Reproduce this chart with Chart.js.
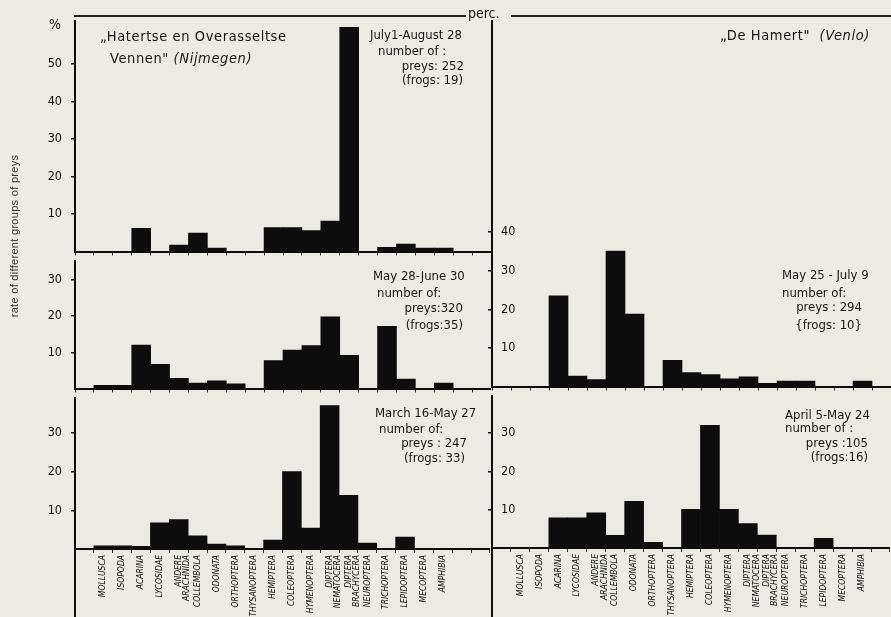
<!DOCTYPE html>
<html>
<head>
<meta charset="utf-8">
<script src="https://cdn.jsdelivr.net/npm/chart.js@4.4.1/dist/chart.umd.min.js"></script>
<style>
  body { margin: 0; background: #ebebe3; }
  #wrap { position: relative; width: 891px; height: 617px; overflow: hidden;
          font-family: 'Liberation Sans Narrow', 'DejaVu Sans Condensed', sans-serif; color: #161616; }
  canvas { position: absolute; }
  .t { position: absolute; white-space: nowrap; font-size: 13px; line-height: 14px; letter-spacing: 0; }
  .title { position: absolute; white-space: nowrap; font-size: 14.5px; line-height: 16px; letter-spacing: 0.6px; }
  .hline { position: absolute; height: 1.5px; background: #222; }
  .vline { position: absolute; width: 2px; background: #111; }
</style>
</head>
<body>
<div id="wrap">
  <canvas id="nijTop" width="491" height="264" style="left:0;top:4px"></canvas>
  <canvas id="nijMid" width="491" height="161" style="left:0;top:244px"></canvas>
  <canvas id="nijBot" width="491" height="236" style="left:0;top:381px"></canvas>
  <canvas id="hamMid" width="421" height="399" style="left:470px;top:4px"></canvas>
  <canvas id="hamBot" width="421" height="238" style="left:470px;top:379px"></canvas>

  <div class="hline" style="left:74px;top:15px;width:392px"></div>
  <div class="t" style="left:468px;top:6px;font-size:14px">perc.</div>
  <div class="hline" style="left:511px;top:15px;width:380px"></div>
  <div class="vline" style="left:74px;top:548px;height:69px"></div>
  <div class="vline" style="left:491px;top:547px;height:70px"></div>

  <div class="t" style="left:49px;top:17px;font-size:14px">%</div>
  <div style="position:absolute;left:-96px;top:230px;width:220px;text-align:center;transform:rotate(-90deg);
              font-family:'Liberation Sans',sans-serif;font-size:11px;letter-spacing:0.3px;color:#333">rate of different groups of preys</div>

  <div class="title" style="left:100px;top:28px">„Hatertse en Overasseltse</div>
  <div class="title" style="left:110px;top:50px">Vennen" <i>(Nijmegen)</i></div>
  <div class="title" style="left:720px;top:27px">„De Hamert" &nbsp;<i>(Venlo)</i></div>

  <div class="t" style="left:370px;top:28px">July1-August 28</div>
  <div class="t" style="left:378px;top:44px">number of :</div>
  <div class="t" style="right:427px;top:59px">preys: 252</div>
  <div class="t" style="right:428px;top:73px">(frogs: 19)</div>

  <div class="t" style="left:373px;top:269px">May 28-June 30</div>
  <div class="t" style="left:377px;top:286px">number of:</div>
  <div class="t" style="right:428px;top:301px">preys:320</div>
  <div class="t" style="right:428px;top:318px">(frogs:35)</div>

  <div class="t" style="left:375px;top:406px">March 16-May 27</div>
  <div class="t" style="left:379px;top:422px">number of:</div>
  <div class="t" style="right:424px;top:436px">preys : 247</div>
  <div class="t" style="right:426px;top:451px">(frogs: 33)</div>

  <div class="t" style="left:782px;top:268px">May 25 - July 9</div>
  <div class="t" style="left:782px;top:286px">number of:</div>
  <div class="t" style="right:29px;top:300px">preys : 294</div>
  <div class="t" style="right:29px;top:318px">{frogs: 10}</div>

  <div class="t" style="left:785px;top:408px">April 5-May 24</div>
  <div class="t" style="left:785px;top:421px">number of :</div>
  <div class="t" style="right:23px;top:436px">preys :105</div>
  <div class="t" style="right:23px;top:450px">(frogs:16)</div>
</div>

<script>
// prey groups, same order in all panels
const categories = ['MOLLUSCA', 'ISOPODA', 'ACARINA', 'LYCOSIDAE', ['ANDERE', 'ARACHNIDA'],
    'COLLEMBOLA', 'ODONATA', 'ORTHOPTERA', 'THYSANOPTERA', 'HEMIPTERA', 'COLEOPTERA',
    'HYMENOPTERA', ['DIPTERA', 'NEMATOCERA'], ['DIPTERA', 'BRACHYCERA'], 'NEUROPTERA',
    'TRICHOPTERA', 'LEPIDOPTERA', 'MECOPTERA', 'AMPHIBIA'];

// Hatertse en Overasseltse Vennen (Nijmegen), % of preys
const nijJulAug = [0, 0, 6.2, 0, 1.7, 4.9, 0.9, 0, 0, 6.4, 6.4, 5.6, 8.1, 59.7, 0, 1.1, 2.0, 0.9, 0.9];
const nijMayJun = [0.9, 0.9, 12.0, 6.7, 2.8, 1.5, 2.1, 1.3, 0, 7.7, 10.6, 11.9, 19.8, 9.2, 0, 17.2, 2.6, 0, 1.5];
const nijMarMay = [0.8, 0.8, 0.7, 6.8, 7.6, 3.4, 1.3, 0.8, 0, 2.3, 20.0, 5.4, 37.1, 13.9, 1.5, 0, 3.1, 0, 0];

// De Hamert (Venlo), % of preys
const hamMayJul = [0, 0, 23.5, 2.7, 1.8, 35.1, 18.8, 0, 6.8, 3.6, 3.1, 2.0, 2.5, 0.8, 1.4, 1.4, 0, 0, 1.4];
const hamAprMay = [0, 0, 7.9, 7.9, 9.2, 3.3, 12.2, 1.5, 0, 10.1, 32.0, 10.1, 6.4, 3.4, 0, 0, 2.5, 0, 0];

// tick labels
const ticksTopLeft = [10, 20, 30, 40, 50];
const ticksTallRight = [10, 20, 30, 40];
const ticksSmall = [10, 20, 30];

const FONT = "'Liberation Sans Narrow', 'DejaVu Sans Condensed', sans-serif";
const INK = '#0d0d0d';

function drawPanel(id, values, yMax, yTicks, right, showLabels, xHeight) {
    const after = right ? [''] : ['', ''];
    const labels = [''].concat(categories, after);
    const data = [null].concat(values, after.map(() => null));

    const ctx = document.getElementById(id).getContext('2d');
    return new Chart(ctx, {
        type: 'bar',
        data: {
            labels: labels,
            datasets: [{
                data: data,
                backgroundColor: INK,
                borderWidth: 0,
                barPercentage: 1,
                categoryPercentage: 1
            }]
        },
        options: {
            responsive: false,
            animation: false,
            devicePixelRatio: 1,
            layout: { padding: { top: 12, left: 0, right: 0, bottom: 0 } },
            plugins: { legend: { display: false }, tooltip: { enabled: false } },
            scales: {
                x: {
                    offset: true,
                    grid: { offset: true, drawOnChartArea: false, tickLength: 4, color: '#333', lineWidth: 1 },
                    border: { display: true, color: INK, width: 2 },
                    ticks: {
                        display: showLabels,
                        autoSkip: false,
                        minRotation: 90,
                        maxRotation: 90,
                        padding: 2,
                        color: INK,
                        font: { family: FONT, size: 8.5, style: 'italic', lineHeight: 1.0 }
                    },
                    afterFit: axis => { axis.height = xHeight; }
                },
                y: {
                    min: 0,
                    max: yMax,
                    afterBuildTicks: axis => { axis.ticks = yTicks.map(v => ({ value: v })); },
                    grid: { drawOnChartArea: false, tickLength: 4, color: INK, lineWidth: 1.5 },
                    border: { display: true, color: INK, width: 2 },
                    ticks: {
                        mirror: right,
                        padding: right ? 9 : 9,
                        color: INK,
                        font: { family: FONT, size: 12.5 }
                    },
                    afterFit: axis => { axis.width = right ? 22 : 75; }
                }
            }
        }
    });
}

drawPanel('nijTop', nijJulAug, 61.5, ticksTopLeft, false, false, 12);
drawPanel('nijMid', nijMayJun, 35.4, ticksSmall, false, false, 12);
drawPanel('nijBot', nijMarMay, 39.2, ticksSmall, false, true, 68);
drawPanel('hamMid', hamMayJul, 94.9, ticksTallRight, true, false, 12);
drawPanel('hamBot', hamAprMay, 39.8, ticksSmall, true, true, 69);
</script>
</body>
</html>
